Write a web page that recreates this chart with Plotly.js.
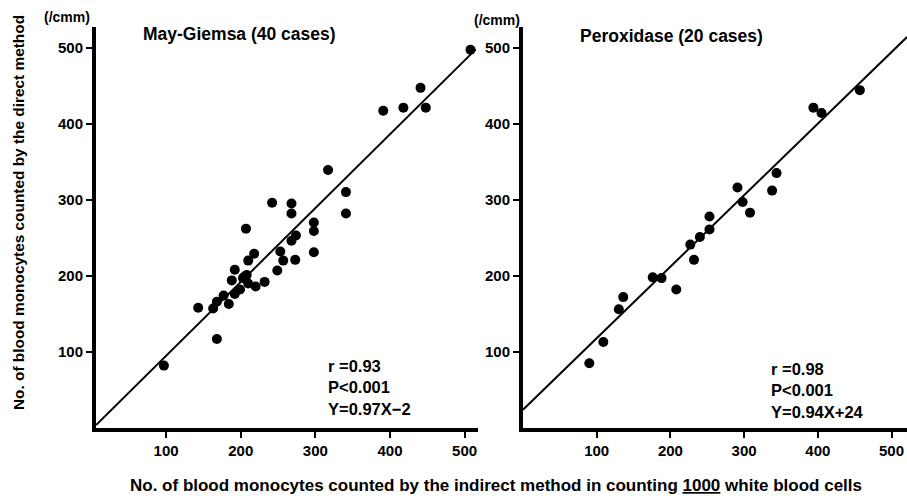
<!DOCTYPE html>
<html>
<head>
<meta charset="utf-8">
<script src="https://cdn.plot.ly/plotly-3.0.1.min.js"></script>
<style>html,body{margin:0;padding:0;background:#fff;}#chart{width:907px;height:500px;}</style>
</head>
<body>
<div id="chart"></div>
<script>
// May-Giemsa (40 cases): indirect (x) vs direct (y)
const mgX = [508, 441, 391, 418, 448, 317, 341, 341, 242, 268, 268, 207, 298, 298, 274, 268,
             253, 298, 218, 210, 257, 273, 249, 192, 208, 188, 203, 210, 220, 232, 199, 192,
             177, 184, 168, 163, 143, 168, 97, 205];
const mgY = [497, 447, 417, 421, 421, 339, 310, 282, 296, 295, 282, 262, 270, 259, 253, 246,
             232, 231, 229, 220, 220, 221, 207, 208, 201, 194, 197, 190, 186, 192, 182, 176,
             174, 163, 166, 157, 158, 117, 82, 199];
// Peroxidase (20 cases)
const pxX = [457, 394, 405, 344, 338, 291, 298, 308, 253, 253, 240, 227, 232, 176, 188, 208, 136, 130, 109, 90];
const pxY = [444, 421, 414, 335, 312, 316, 297, 283, 278, 261, 251, 241, 221, 198, 197, 182, 172, 156, 113, 85];

const tickVals = [100, 200, 300, 400, 500];
const tickText = ["100", "200", "300", "400", "500"];

// regression lines
const mgSlope = 0.97, mgIntercept = -2, mgLineX = [6, 515];
const pxSlope = 0.94, pxIntercept = 24, pxLineX = [0, 521];

const fam = "Liberation Sans, Arial, sans-serif";
function F(size) { return {family: fam, size: size, color: "#000", weight: "bold"}; }

const marker = {color: "#000", size: 10};
const traces = [
  {x: mgX, y: mgY, type: "scatter", mode: "markers", marker: marker, xaxis: "x", yaxis: "y", cliponaxis: false},
  {x: mgLineX, y: mgLineX.map(v => mgSlope * v + mgIntercept), type: "scatter", mode: "lines",
   line: {color: "#000", width: 2}, xaxis: "x", yaxis: "y"},
  {x: pxX, y: pxY, type: "scatter", mode: "markers", marker: marker, xaxis: "x2", yaxis: "y2", cliponaxis: false},
  {x: pxLineX, y: pxLineX.map(v => pxSlope * v + pxIntercept), type: "scatter", mode: "lines",
   line: {color: "#000", width: 2}, xaxis: "x2", yaxis: "y2"}
];

const axBase = {
  showgrid: false, zeroline: false, showline: true, linecolor: "#000", linewidth: 4,
  ticks: "outside", ticklen: 6, tickwidth: 2, tickcolor: "#000",
  tickvals: tickVals, ticktext: tickText, tickfont: F(15), fixedrange: true
};

function ann(text, x, y, opts) {
  return Object.assign({text: text, x: x, y: y, xref: "paper", yref: "paper", showarrow: false,
    xanchor: "left", yanchor: "middle", align: "left", font: F(16)}, opts || {});
}

const layout = {
  width: 907, height: 500,
  margin: {l: 0, r: 0, t: 0, b: 0},
  paper_bgcolor: "#fff", plot_bgcolor: "#fff",
  showlegend: false,
  xaxis: Object.assign({}, axBase, {domain: [96/907, 478/907], range: [6, 518], anchor: "y"}),
  yaxis: Object.assign({}, axBase, {domain: [1 - 428/500, 1 - 27/500], range: [0, 527], anchor: "x"}),
  xaxis2: Object.assign({}, axBase, {domain: [523/907, 1], range: [0, 521], anchor: "y2"}),
  yaxis2: Object.assign({}, axBase, {domain: [1 - 428/500, 1 - 27/500], range: [0, 527], anchor: "x2"}),
  annotations: [
    ann("May-Giemsa (40 cases)", 141/907, 1 - 34/500, {font: F(17.5)}),
    ann("Peroxidase (20 cases)", 578/907, 1 - 36/500, {font: F(17.5)}),
    ann("(/cmm)", 42/907, 1 - 17/500, {font: F(14)}),
    ann("(/cmm)", 472/907, 1 - 20/500, {font: F(14)}),
    ann("r =0.93<br>P<0.001<br>Y=0.97X−2", 326/907, 1 - 355/500, {yanchor: "top", font: F(16.5)}),
    ann("r =0.98<br>P<0.001<br>Y=0.94X+24", 769/907, 1 - 358/500, {yanchor: "top", font: F(16.5)}),
    ann("No. of blood monocytes counted by the direct method", 19/907, 1 - 213/500,
        {textangle: -90, xanchor: "center", yanchor: "middle", font: F(15.4)}),
    ann("No. of blood monocytes counted by the indirect method in counting <u>1000</u> white blood cells", 496/907, 1 - 485/500,
        {xanchor: "center", font: F(17)})
  ]
};

Plotly.newPlot("chart", traces, layout, {displayModeBar: false, staticPlot: true});
</script>
</body>
</html>
